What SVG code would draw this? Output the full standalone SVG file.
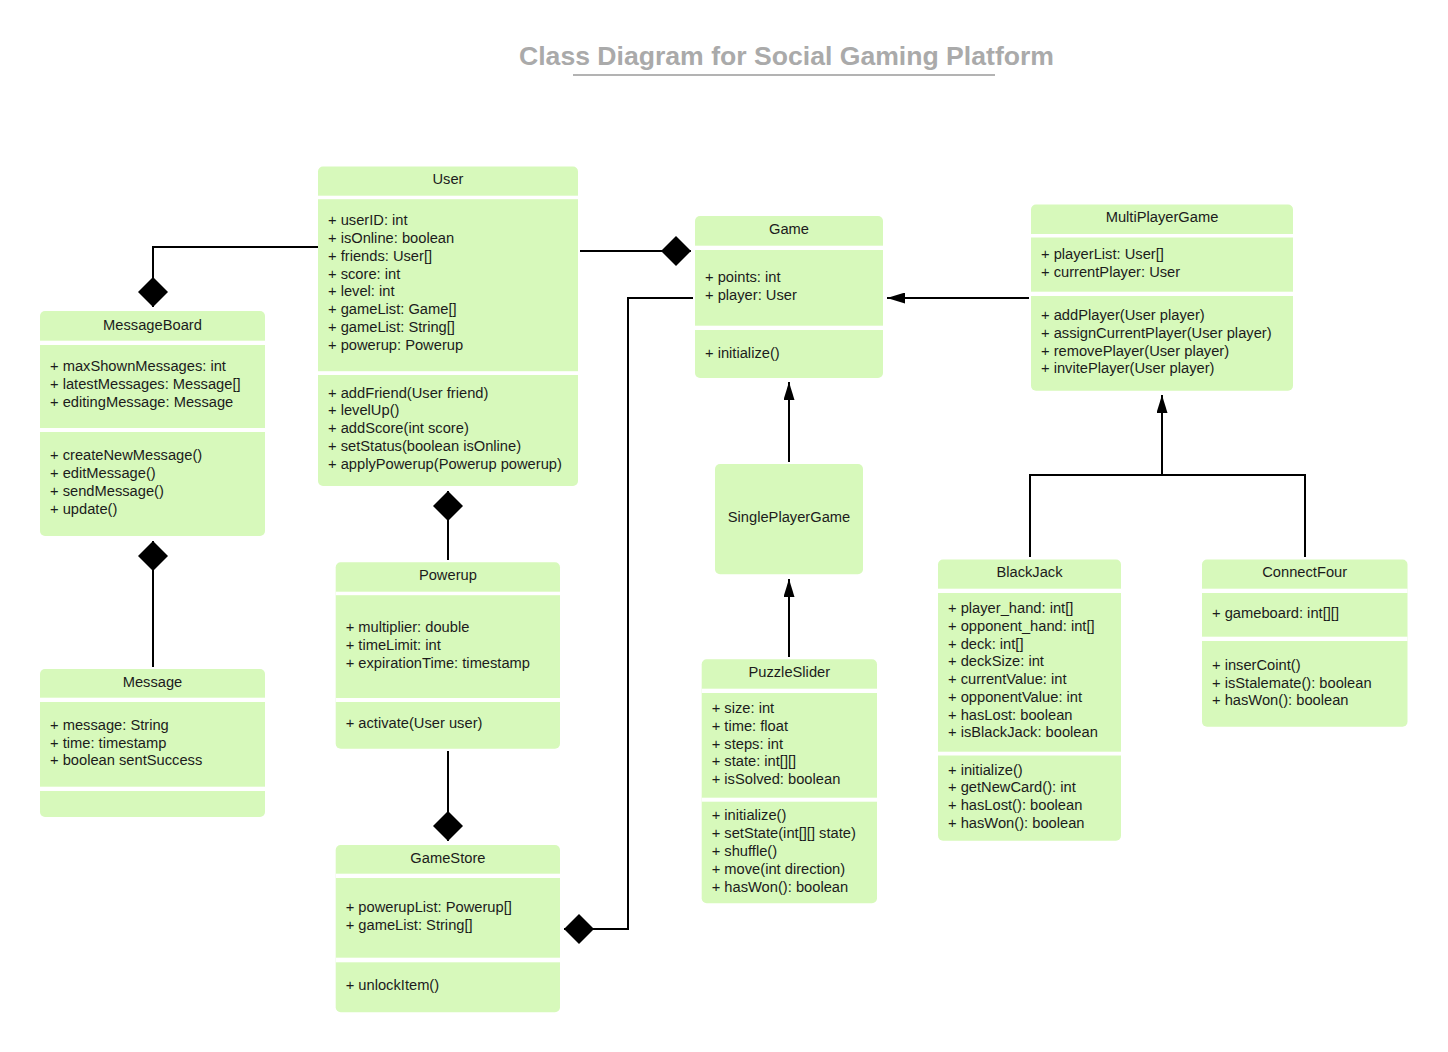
<svg xmlns="http://www.w3.org/2000/svg" width="1448" height="1052" viewBox="0 0 1448 1052">
<style>
.bg{fill:#ffffff}
.box{fill:#d7f9bb}
.sep{fill:#ffffff}
.t{font-family:"Liberation Sans",Arial,sans-serif;font-size:14.7px;fill:#1c1c1c}
.h{text-anchor:middle}
.title{font-family:"Liberation Sans",Arial,sans-serif;font-size:26.6px;font-weight:bold;fill:#aaaaaa;text-anchor:middle}
.conn path{fill:none;stroke:#000;stroke-width:2}
</style>
<defs>
<marker id="diamond" viewBox="0 0 30 30" refX="30" refY="15" markerWidth="30" markerHeight="30" markerUnits="userSpaceOnUse" orient="auto">
<path d="M0,15 L15,0 L30,15 L15,30 Z" fill="#000"/>
</marker>
<marker id="arrow" viewBox="0 0 18 11" refX="18" refY="5.5" markerWidth="18" markerHeight="11" markerUnits="userSpaceOnUse" orient="auto">
<path d="M0,0 L18,5.5 L0,11 Z" fill="#000"/>
</marker>
</defs>
<rect class="bg" x="0" y="0" width="1448" height="1052"/>

<g id="title">
<text class="title" x="786.5" y="65">Class Diagram for Social Gaming Platform</text>
<line x1="573" y1="75" x2="995" y2="75" stroke="#b3b3b3" stroke-width="2"/>
</g>

<g id="connectors" class="conn">
<path d="M318,247 H153 V307" marker-end="url(#diamond)"/>
<path d="M580,251 H691" marker-end="url(#diamond)"/>
<path d="M153,667 V541" marker-end="url(#diamond)"/>
<path d="M448,560 V491" marker-end="url(#diamond)"/>
<path d="M448,751 V841" marker-end="url(#diamond)"/>
<path d="M693,298 H628 V929 H564" marker-end="url(#diamond)"/>
<path d="M1029,298 H887" marker-end="url(#arrow)"/>
<path d="M789,462 V382" marker-end="url(#arrow)"/>
<path d="M789,657 V579" marker-end="url(#arrow)"/>
<path d="M1030,557 V475 H1305 V557"/>
<path d="M1162,475 V395" marker-end="url(#arrow)"/>
</g>

<g id="user">
<rect class="box" x="318" y="166.5" width="260" height="319.5" rx="5"/>
<rect class="sep" x="318" y="195.7" width="260" height="3.5"/>
<rect class="sep" x="318" y="371.2" width="260" height="3.8"/>
<text class="t h" x="448" y="184">User</text>
<text class="t" x="328" y="225">+ userID: int</text>
<text class="t" x="328" y="243">+ isOnline: boolean</text>
<text class="t" x="328" y="261">+ friends: User[]</text>
<text class="t" x="328" y="279">+ score: int</text>
<text class="t" x="328" y="296">+ level: int</text>
<text class="t" x="328" y="314">+ gameList: Game[]</text>
<text class="t" x="328" y="332">+ gameList: String[]</text>
<text class="t" x="328" y="350">+ powerup: Powerup</text>
<text class="t" x="328" y="398">+ addFriend(User friend)</text>
<text class="t" x="328" y="415">+ levelUp()</text>
<text class="t" x="328" y="433">+ addScore(int score)</text>
<text class="t" x="328" y="451">+ setStatus(boolean isOnline)</text>
<text class="t" x="328" y="469">+ applyPowerup(Powerup powerup)</text>
</g>

<g id="messageboard">
<rect class="box" x="40" y="311" width="225" height="225" rx="5"/>
<rect class="sep" x="40" y="340.7" width="225" height="4.3"/>
<rect class="sep" x="40" y="428" width="225" height="4"/>
<text class="t h" x="152.5" y="330">MessageBoard</text>
<text class="t" x="50" y="371">+ maxShownMessages: int</text>
<text class="t" x="50" y="389">+ latestMessages: Message[]</text>
<text class="t" x="50" y="407">+ editingMessage: Message</text>
<text class="t" x="50" y="460">+ createNewMessage()</text>
<text class="t" x="50" y="478">+ editMessage()</text>
<text class="t" x="50" y="496">+ sendMessage()</text>
<text class="t" x="50" y="514">+ update()</text>
</g>

<g id="message">
<rect class="box" x="40" y="669" width="225" height="148" rx="5"/>
<rect class="sep" x="40" y="697.7" width="225" height="4.3"/>
<rect class="sep" x="40" y="786.7" width="225" height="4.3"/>
<text class="t h" x="152.5" y="687">Message</text>
<text class="t" x="50" y="730">+ message: String</text>
<text class="t" x="50" y="748">+ time: timestamp</text>
<text class="t" x="50" y="765">+ boolean sentSuccess</text>
</g>

<g id="game">
<rect class="box" x="695" y="216" width="188" height="162" rx="5"/>
<rect class="sep" x="695" y="245.7" width="188" height="4.3"/>
<rect class="sep" x="695" y="325.7" width="188" height="4.3"/>
<text class="t h" x="789" y="234">Game</text>
<text class="t" x="705" y="282">+ points: int</text>
<text class="t" x="705" y="300">+ player: User</text>
<text class="t" x="705" y="358">+ initialize()</text>
</g>

<g id="multiplayergame">
<rect class="box" x="1031" y="204.5" width="262" height="186.2" rx="5"/>
<rect class="sep" x="1031" y="234" width="262" height="3.5"/>
<rect class="sep" x="1031" y="291.7" width="262" height="4.3"/>
<text class="t h" x="1162" y="222">MultiPlayerGame</text>
<text class="t" x="1041" y="259">+ playerList: User[]</text>
<text class="t" x="1041" y="277">+ currentPlayer: User</text>
<text class="t" x="1041" y="320">+ addPlayer(User player)</text>
<text class="t" x="1041" y="338">+ assignCurrentPlayer(User player)</text>
<text class="t" x="1041" y="356">+ removePlayer(User player)</text>
<text class="t" x="1041" y="373">+ invitePlayer(User player)</text>
</g>

<g id="blackjack">
<rect class="box" x="938" y="559.5" width="183" height="281.2" rx="5"/>
<rect class="sep" x="938" y="588.7" width="183" height="4.3"/>
<rect class="sep" x="938" y="751.7" width="183" height="3.8"/>
<text class="t h" x="1029.5" y="577">BlackJack</text>
<text class="t" x="948" y="613">+ player_hand: int[]</text>
<text class="t" x="948" y="631">+ opponent_hand: int[]</text>
<text class="t" x="948" y="649">+ deck: int[]</text>
<text class="t" x="948" y="666">+ deckSize: int</text>
<text class="t" x="948" y="684">+ currentValue: int</text>
<text class="t" x="948" y="702">+ opponentValue: int</text>
<text class="t" x="948" y="720">+ hasLost: boolean</text>
<text class="t" x="948" y="737">+ isBlackJack: boolean</text>
<text class="t" x="948" y="775">+ initialize()</text>
<text class="t" x="948" y="792">+ getNewCard(): int</text>
<text class="t" x="948" y="810">+ hasLost(): boolean</text>
<text class="t" x="948" y="828">+ hasWon(): boolean</text>
</g>

<g id="connectfour">
<rect class="box" x="1202" y="559.5" width="205.5" height="167.2" rx="5"/>
<rect class="sep" x="1202" y="588.7" width="205.5" height="4.3"/>
<rect class="sep" x="1202" y="636.7" width="205.5" height="4.3"/>
<text class="t h" x="1304.7" y="577">ConnectFour</text>
<text class="t" x="1212" y="618">+ gameboard: int[][]</text>
<text class="t" x="1212" y="670">+ inserCoint()</text>
<text class="t" x="1212" y="688">+ isStalemate(): boolean</text>
<text class="t" x="1212" y="705">+ hasWon(): boolean</text>
</g>

<g id="powerup">
<rect class="box" x="335.7" y="562.3" width="224.3" height="186.4" rx="5"/>
<rect class="sep" x="335.7" y="591.7" width="224.3" height="3.5"/>
<rect class="sep" x="335.7" y="698" width="224.3" height="4"/>
<text class="t h" x="447.9" y="580">Powerup</text>
<text class="t" x="345.7" y="632">+ multiplier: double</text>
<text class="t" x="345.7" y="650">+ timeLimit: int</text>
<text class="t" x="345.7" y="668">+ expirationTime: timestamp</text>
<text class="t" x="345.7" y="728">+ activate(User user)</text>
</g>

<g id="gamestore">
<rect class="box" x="335.7" y="845" width="224.3" height="167.3" rx="5"/>
<rect class="sep" x="335.7" y="873.7" width="224.3" height="4.3"/>
<rect class="sep" x="335.7" y="957.7" width="224.3" height="4.6"/>
<text class="t h" x="447.9" y="863">GameStore</text>
<text class="t" x="345.7" y="912">+ powerupList: Powerup[]</text>
<text class="t" x="345.7" y="930">+ gameList: String[]</text>
<text class="t" x="345.7" y="990">+ unlockItem()</text>
</g>

<g id="singleplayergame">
<rect class="box" x="715" y="464" width="148" height="110.3" rx="5"/>
<text class="t h" x="789" y="522">SinglePlayerGame</text>
</g>

<g id="puzzleslider">
<rect class="box" x="701.7" y="659.3" width="175.3" height="244" rx="5"/>
<rect class="sep" x="701.7" y="688.7" width="175.3" height="4.3"/>
<rect class="sep" x="701.7" y="797.7" width="175.3" height="4"/>
<text class="t h" x="789.3" y="677">PuzzleSlider</text>
<text class="t" x="711.7" y="713">+ size: int</text>
<text class="t" x="711.7" y="731">+ time: float</text>
<text class="t" x="711.7" y="749">+ steps: int</text>
<text class="t" x="711.7" y="766">+ state: int[][]</text>
<text class="t" x="711.7" y="784">+ isSolved: boolean</text>
<text class="t" x="711.7" y="820">+ initialize()</text>
<text class="t" x="711.7" y="838">+ setState(int[][] state)</text>
<text class="t" x="711.7" y="856">+ shuffle()</text>
<text class="t" x="711.7" y="874">+ move(int direction)</text>
<text class="t" x="711.7" y="892">+ hasWon(): boolean</text>
</g>
</svg>
